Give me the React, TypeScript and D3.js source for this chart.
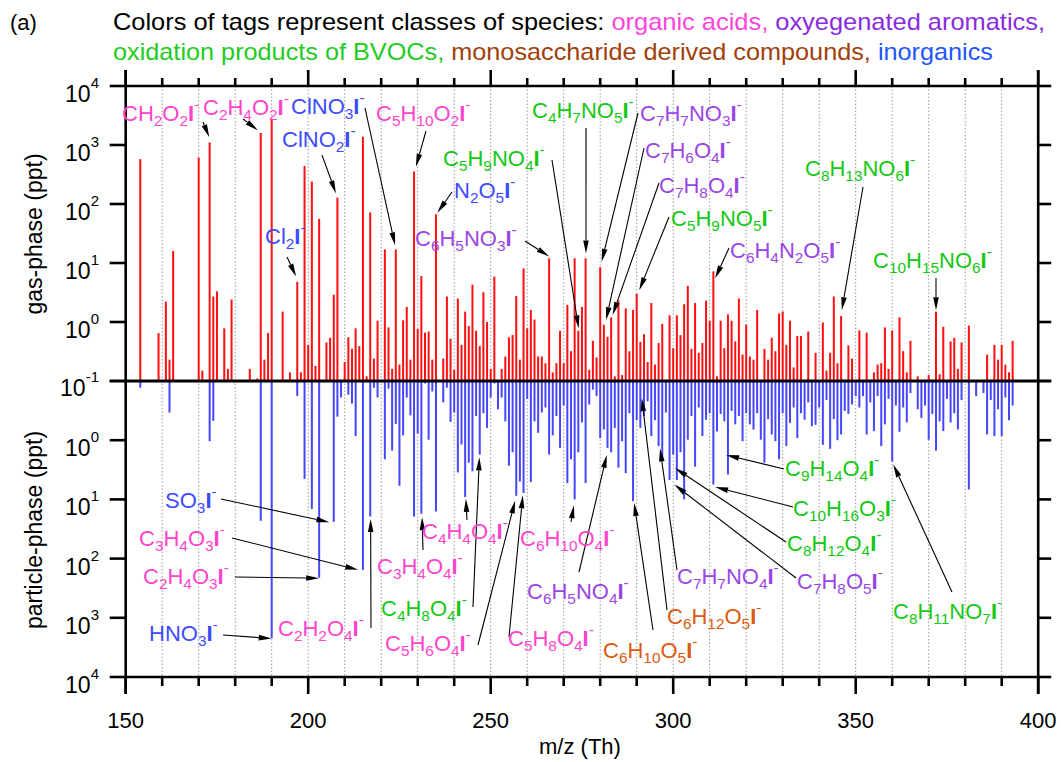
import React from "react";
import * as d3 from "d3";

// ---------- data ----------
const gasPeaks: [number, number][] = [
  [154,575],[159,0.65],[161,2.2],[162,0.23],[163,16],[170,610],[171,0.15],[173,1100],[174,2.7],[175,3.3],[177,0.78],[178,0.16],[179,2.4],[184,0.16],[186,0.11],[187,1600],[188,0.23],[189,0.65],[190,2700],[193,1.5],[195,0.14],[197,4.8],[198,0.14],[199,440],[200,0.41],[201,240],[202,0.18],[203,56],[205,0.45],[206,0.54],[207,2.9],[208,128],[210,0.21],[211,0.55],[212,0.35],[213,0.78],[214,0.39],[215,1380],[216,0.12],[217,72],[218,0.24],[219,1.05],[221,17],[222,0.81],[223,0.16],[224,17],[225,0.19],[226,1.07],[227,1.8],[228,0.23],[229,355],[230,0.76],[231,6.0],[232,0.66],[233,0.69],[234,0.23],[235,67],[237,0.24],[238,2.7],[239,0.52],[240,0.155],[241,2.5],[242,0.41],[243,1.5],[244,0.85],[245,4.3],[246,0.71],[247,0.39],[248,3.2],[249,1.0],[250,0.16],[251,5.9],[253,0.16],[254,0.26],[255,0.55],[256,0.6],[257,2.75],[258,0.23],[259,8.1],[260,0.78],[261,1.6],[262,1.1],[263,0.26],[264,0.26],[265,0.2],[266,12],[267,0.14],[268,0.2],[269,0.71],[270,0.2],[271,1.95],[272,0.32],[273,12],[274,0.71],[275,1.8],[276,12],[277,0.155],[278,0.48],[279,0.25],[280,8.5],[281,0.9],[282,0.56],[283,1.2],[284,0.12],[285,2.3],[286,0.126],[287,1.7],[288,0.32],[289,1.6],[290,3.0],[291,0.46],[292,0.62],[293,0.21],[294,2.1],[295,0.19],[296,0.44],[297,0.93],[299,1.3],[300,0.36],[301,1.3],[302,0.6],[303,2.0],[304,4.1],[305,0.35],[306,2.1],[307,0.3],[308,0.44],[309,2.3],[310,1.05],[311,7.2],[312,0.12],[313,1.05],[314,0.36],[315,1.35],[316,1.05],[317,0.47],[318,2.5],[319,0.28],[320,0.9],[321,0.26],[322,0.23],[323,1.6],[325,0.35],[326,0.23],[327,0.54],[328,0.32],[329,1.4],[330,1.5],[331,0.41],[332,1.05],[333,0.17],[334,0.58],[335,0.58],[337,0.69],[339,0.3],[341,0.98],[342,0.15],[343,0.3],[344,2.7],[345,0.2],[346,1.26],[348,0.4],[349,0.24],[351,0.72],[353,0.66],[355,0.14],[356,0.19],[357,0.2],[358,0.81],[359,0.16],[360,0.72],[362,1.2],[363,0.32],[364,0.14],[365,0.48],[367,0.12],[370,0.126],[372,1.5],[373,0.13],[374,0.83],[376,0.47],[377,0.54],[378,0.16],[379,0.45],[381,0.87],[386,0.28],[388,0.41],[389,0.23],[390,0.41],[391,0.19],[392,0.14],[393,0.48]
];

const particlePeaks: [number, number][] = [
  [154,0.13],[162,0.34],[173,1.04],[174,0.47],[187,23],[190,2200],[197,0.18],[199,4.5],[201,14.5],[203,210],[207,24],[208,0.4],[209,0.19],[211,0.17],[212,0.24],[213,0.85],[215,155],[217,19.5],[218,0.13],[219,0.19],[221,2.1],[222,0.135],[223,1.5],[224,0.53],[225,5.9],[226,0.83],[227,0.19],[228,0.38],[229,19.5],[230,0.78],[231,17.5],[232,0.11],[233,0.98],[234,0.15],[235,16],[237,0.23],[238,0.13],[239,0.49],[240,0.34],[241,3.5],[242,1.18],[243,9.1],[244,2.4],[245,3.35],[246,0.39],[247,1.75],[248,0.35],[249,0.62],[250,0.19],[251,0.11],[252,0.3],[253,0.19],[254,0.48],[255,2.7],[256,1.6],[257,8.7],[258,5.0],[259,7.8],[260,0.2],[261,5.1],[262,0.48],[263,0.75],[264,0.34],[265,0.28],[266,1.75],[267,0.83],[268,0.39],[269,1.35],[270,0.26],[271,5.3],[272,2.1],[273,10],[274,1.6],[275,0.5],[276,5.3],[277,0.25],[278,0.14],[279,0.18],[280,0.92],[281,0.66],[282,1.35],[283,1.6],[284,0.62],[285,2.9],[286,1.04],[287,3.6],[288,0.35],[289,10.7],[290,0.46],[291,0.62],[292,0.39],[293,0.22],[294,0.85],[295,0.46],[296,1.26],[297,2.1],[298,0.34],[299,4.7],[300,1.75],[301,4.7],[302,1.6],[303,10],[304,0.98],[305,0.39],[306,2.8],[307,0.28],[308,0.85],[309,0.45],[310,0.35],[311,5.6],[312,0.71],[313,0.36],[314,0.48],[315,3.8],[316,0.32],[317,0.54],[318,0.39],[319,1.04],[320,0.35],[321,0.54],[322,0.66],[323,0.35],[324,0.98],[325,2.4],[326,0.44],[327,0.8],[328,1.04],[329,2.1],[330,0.35],[331,1.26],[332,0.51],[333,0.28],[334,0.92],[335,0.35],[336,0.45],[337,0.23],[338,0.58],[339,0.55],[340,0.28],[341,1.2],[342,0.21],[343,1.4],[344,0.44],[345,1.0],[346,0.8],[347,0.32],[348,0.36],[349,0.25],[350,0.18],[351,0.28],[352,0.18],[353,0.8],[354,0.23],[355,0.7],[356,0.18],[357,1.26],[358,0.54],[359,0.2],[360,2.3],[361,0.26],[362,0.72],[363,0.28],[364,0.5],[365,0.16],[367,0.3],[368,0.42],[369,0.26],[370,0.98],[371,0.36],[372,1.5],[373,0.48],[374,0.7],[375,0.2],[376,0.5],[377,0.35],[378,0.66],[379,0.21],[381,6.8],[383,0.18],[385,0.16],[386,0.8],[387,0.21],[388,0.85],[389,0.3],[390,0.85],[391,0.19],[392,0.46],[393,0.26]
];

const xTicks = [150, 200, 250, 300, 350, 400];
const xMinorTicks = d3.range(150, 401, 10);
const decadeExponents = [-1, 0, 1, 2, 3, 4];

const classColors: Record<string, string> = {
  acid: "#ff44cc",
  arom: "#9b45e6",
  bvoc: "#14c814",
  mono: "#dd5a10",
  inorg: "#3c4bff",
};

const headerLine1: [string, string][] = [
  ["Colors of tags represent classes of species: ", "#000000"],
  ["organic acids, ", "#ff44dd"],
  ["oxyegenated aromatics,", "#8a2be2"],
];
const headerLine2: [string, string][] = [
  ["oxidation products of BVOCs, ", "#22cc22"],
  ["monosaccharide derived compounds, ", "#a0400a"],
  ["inorganics", "#2255ff"],
];

// annotations: label (left x, baseline y in px), arrow tail (px), arrow tip (m/z, log10 value)
type Ann = { f: string; c: string; p: "g" | "p"; lx: number; ly: number; tail: [number, number]; tip: [number, number] };
const annotations: Ann[] = [
  { f: "CH2O2I-", c: "acid", p: "g", lx: 122, ly: 121, tail: [203, 122], tip: [172.9, 3.13] },
  { f: "C2H4O2I-", c: "acid", p: "g", lx: 203, ly: 115, tail: [243, 119], tip: [186.2, 3.25] },
  { f: "ClNO3I-", c: "inorg", p: "g", lx: 291, ly: 114, tail: [365, 108], tip: [223.8, 1.3] },
  { f: "ClNO2I-", c: "inorg", p: "g", lx: 282, ly: 147, tail: [322, 155], tip: [207.6, 2.18] },
  { f: "C5H10O2I-", c: "acid", p: "g", lx: 376, ly: 121, tail: [426, 131], tip: [229.5, 2.63] },
  { f: "N2O5I-", c: "inorg", p: "g", lx: 454, ly: 198, tail: [452, 192], tip: [235.4, 1.85] },
  { f: "C6H5NO3I-", c: "arom", p: "g", lx: 415, ly: 246, tail: [525, 241], tip: [266.05, 1.11] },
  { f: "C5H9NO4I-", c: "bvoc", p: "g", lx: 443, ly: 166, tail: [552, 160], tip: [274.1, -0.107] },
  { f: "C4H7NO5I-", c: "bvoc", p: "g", lx: 532, ly: 118, tail: [586, 128], tip: [276.1, 1.16] },
  { f: "C7H7NO3I-", c: "arom", p: "g", lx: 640, ly: 121, tail: [638, 113], tip: [280.4, 1.02] },
  { f: "C7H6O4I-", c: "arom", p: "g", lx: 645, ly: 158, tail: [644, 148], tip: [281.6, 0.034] },
  { f: "C7H8O4I-", c: "arom", p: "g", lx: 659, ly: 193, tail: [659, 183], tip: [283.4, 0.12] },
  { f: "C5H9NO5I-", c: "bvoc", p: "g", lx: 671, ly: 226, tail: [669, 217], tip: [290.7, 0.54] },
  { f: "C6H4N2O5I-", c: "arom", p: "g", lx: 730, ly: 258, tail: [729, 248], tip: [311.5, 0.74] },
  { f: "C8H13NO6I-", c: "bvoc", p: "g", lx: 805, ly: 176, tail: [863, 187], tip: [346.2, 0.2] },
  { f: "C10H15NO6I-", c: "bvoc", p: "g", lx: 873, ly: 268, tail: [936, 278], tip: [372.0, 0.2] },
  { f: "Cl2I-", c: "inorg", p: "g", lx: 265, ly: 244, tail: [287, 257], tip: [196.7, 0.77] },
  { f: "SO3I-", c: "inorg", p: "p", lx: 165, ly: 508, tail: [221, 499], tip: [205.8, 1.385] },
  { f: "C3H4O3I-", c: "acid", p: "p", lx: 139, ly: 546, tail: [232, 538], tip: [213.7, 2.19] },
  { f: "C2H4O3I-", c: "acid", p: "p", lx: 143, ly: 584, tail: [235, 577], tip: [203.0, 2.33] },
  { f: "HNO3I-", c: "inorg", p: "p", lx: 149, ly: 641, tail: [223, 635], tip: [190, 3.35] },
  { f: "C2H2O4I-", c: "acid", p: "p", lx: 278, ly: 636, tail: [371, 628], tip: [217.1, 1.33] },
  { f: "C3H4O4I-", c: "acid", p: "p", lx: 377, ly: 574, tail: [423, 550], tip: [231.2, 1.3] },
  { f: "C4H4O4I-", c: "acid", p: "p", lx: 422, ly: 539, tail: [467, 520], tip: [243.2, 0.99] },
  { f: "C4H8O4I-", c: "bvoc", p: "p", lx: 381, ly: 616, tail: [473, 607], tip: [246.9, 0.29] },
  { f: "C5H6O4I-", c: "acid", p: "p", lx: 385, ly: 651, tail: [478, 645], tip: [256.7, 1.02] },
  { f: "C5H8O4I-", c: "acid", p: "p", lx: 508, ly: 646, tail: [509, 637], tip: [258.8, 0.93] },
  { f: "C6H10O4I-", c: "acid", p: "p", lx: 520, ly: 546, tail: [571, 522], tip: [272.8, 1.1] },
  { f: "C6H5NO4I-", c: "arom", p: "p", lx: 527, ly: 599, tail: [579, 572], tip: [281.8, 0.25] },
  { f: "C6H10O5I-", c: "mono", p: "p", lx: 603, ly: 658, tail: [653, 630], tip: [289.3, 1.06] },
  { f: "C6H12O5I-", c: "mono", p: "p", lx: 667, ly: 624, tail: [667, 610], tip: [291.4, -0.71] },
  { f: "C7H7NO4I-", c: "arom", p: "p", lx: 677, ly: 584, tail: [677, 570], tip: [296.4, 0.14] },
  { f: "C9H14O4I-", c: "bvoc", p: "p", lx: 785, ly: 476, tail: [784, 469], tip: [314.5, 0.25] },
  { f: "C10H16O3I-", c: "bvoc", p: "p", lx: 793, ly: 516, tail: [793, 507], tip: [311.5, 0.79] },
  { f: "C8H12O4I-", c: "bvoc", p: "p", lx: 787, ly: 551, tail: [786, 542], tip: [300.5, 0.47] },
  { f: "C7H8O5I-", c: "arom", p: "p", lx: 797, ly: 589, tail: [796, 578], tip: [300.3, 0.75] },
  { f: "C8H11NO7I-", c: "bvoc", p: "p", lx: 893, ly: 619, tail: [952, 592], tip: [360.3, 0.41] },
];

// ---------- layout ----------
const W = 1061, H = 762;
const PL = 125.7, PR = 1038.2, PT = 86, PM = 381, PB = 677;
const FONT = "'Liberation Sans', Arial, Helvetica, sans-serif";

const x = d3.scaleLinear().domain([150, 400]).range([PL, PR]);
const yG = d3.scaleLog().domain([0.1, 1e4]).range([PM, PT]);
const yP = d3.scaleLog().domain([0.1, 1e4]).range([PM, PB]);

function Formula({ text, lx, ly, color, size }: { text: string; lx: number; ly: number; color: string; size: number }) {
  const tokens = text.match(/[A-Z][a-z]?|\d+|-/g) || [];
  let off = 0;
  return (
    <text x={lx} y={ly} fill={color} fontSize={size} fontFamily={FONT}>
      {tokens.map((t, i) => {
        let target = 0, fs = size, fw: any = "normal";
        if (/\d/.test(t)) { target = size * 0.24; fs = size * 0.7; }
        else if (t === "-") { target = -size * 0.52; fs = size * 0.7; }
        else if (t === "I") { fw = "bold"; }
        const dy = target - off;
        off = target;
        return (
          <tspan key={i} dy={dy} fontSize={fs} fontWeight={fw}>
            {t}
          </tspan>
        );
      })}
    </text>
  );
}

function Arrow({ a }: { a: Ann }) {
  const tx = x(a.tip[0]);
  const ty = a.p === "g" ? yG(Math.pow(10, a.tip[1])) : yP(Math.pow(10, a.tip[1]));
  const [sx, sy] = a.tail;
  const dx = tx - sx, dy = ty - sy;
  const len = Math.hypot(dx, dy);
  const ux = dx / len, uy = dy / len;
  const L = Math.min(13, len);
  const hw = 2.8;
  const bx = tx - ux * L, by = ty - uy * L;
  const nx = -uy, ny = ux;
  return (
    <g>
      <line x1={sx} y1={sy} x2={bx} y2={by} stroke="#000" strokeWidth={1.1} />
      <polygon points={`${tx},${ty} ${bx + nx * hw},${by + ny * hw} ${bx - nx * hw},${by - ny * hw}`} fill="#000" />
    </g>
  );
}

export default function App() {
  return (
    <svg width={W} height={H} style={{ position: "absolute", left: 0, top: 0, background: "#fff" }} fontFamily={FONT}>
      <rect width={W} height={H} fill="#fff" />
      {/* header */}
      <text x={10} y={30} fontSize={22}>(a)</text>
      <text x={113} y={30} fontSize={24} textLength={932} lengthAdjust="spacingAndGlyphs">
        {headerLine1.map(([t, c], i) => <tspan key={i} fill={c}>{t}</tspan>)}
      </text>
      <text x={113} y={60} fontSize={24} textLength={880} lengthAdjust="spacingAndGlyphs">
        {headerLine2.map(([t, c], i) => <tspan key={i} fill={c}>{t}</tspan>)}
      </text>

      {/* grid */}
      {xMinorTicks.map((m) => (
        <line key={"g" + m} x1={x(m)} x2={x(m)} y1={PT} y2={PB} stroke="#9a9a9a" strokeWidth={1} strokeDasharray="1.5,2" />
      ))}

      {/* bars */}
      {gasPeaks.map(([m, v]) => (
        <rect key={"r" + m} x={x(m) - 1} width={2} y={yG(v)} height={PM - yG(v)} fill="#ff1010" />
      ))}
      {particlePeaks.map(([m, v]) => (
        <rect key={"b" + m} x={x(m) - 1} width={2} y={PM} height={yP(v) - PM} fill="#4646ff" />
      ))}

      {/* axes frame */}
      <g stroke="#000" strokeWidth={2.6} fill="none">
        <line x1={PL} x2={PL} y1={PT - 16} y2={PB + 17} />
        <line x1={PR} x2={PR} y1={PT - 16} y2={PB + 17} />
        <line x1={PL} x2={PR} y1={PT} y2={PT} />
        <line x1={PL} x2={PR} y1={PB} y2={PB} />
        <line x1={PL} x2={PR} y1={PM} y2={PM} strokeWidth={3} />
        {xMinorTicks.map((m) => {
          const major = xTicks.includes(m);
          return (
            <g key={"t" + m}>
              <line x1={x(m)} x2={x(m)} y1={PT} y2={PT - (major ? 16 : 8)} />
              <line x1={x(m)} x2={x(m)} y1={PB} y2={PB + (major ? 17 : 9)} />
            </g>
          );
        })}
        {decadeExponents.map((e) => (
          <g key={"d" + e}>
            <line x1={PL - 16} x2={PL} y1={yG(Math.pow(10, e))} y2={yG(Math.pow(10, e))} />
            <line x1={PR} x2={PR + 13} y1={yG(Math.pow(10, e))} y2={yG(Math.pow(10, e))} />
            <line x1={PL - 16} x2={PL} y1={yP(Math.pow(10, e))} y2={yP(Math.pow(10, e))} />
            <line x1={PR} x2={PR + 13} y1={yP(Math.pow(10, e))} y2={yP(Math.pow(10, e))} />
          </g>
        ))}
      </g>

      {/* y tick labels */}
      {decadeExponents.map((e) => (
        <text key={"lg" + e} x={99} y={yG(Math.pow(10, e)) + (e === -1 ? 15 : 16)} fontSize={23} textAnchor="end">
          10<tspan fontSize={15} dy={-14}>{e}</tspan>
        </text>
      ))}
      {decadeExponents.filter((e) => e > -1).map((e) => (
        <text key={"lp" + e} x={99} y={yP(Math.pow(10, e)) + 16} fontSize={23} textAnchor="end">
          10<tspan fontSize={15} dy={-14}>{e}</tspan>
        </text>
      ))}

      {/* x tick labels */}
      {xTicks.map((m) => (
        <text key={"xl" + m} x={x(m)} y={728} fontSize={22} textAnchor="middle">{m}</text>
      ))}
      <text x={580} y={754} fontSize={22} textAnchor="middle">m/z (Th)</text>
      <text transform={`translate(42,234) rotate(-90)`} fontSize={23} textAnchor="middle">gas-phase (ppt)</text>
      <text transform={`translate(42,530) rotate(-90)`} fontSize={23} textAnchor="middle">particle-phase (ppt)</text>

      {/* annotations */}
      {annotations.map((a, i) => <Arrow key={"a" + i} a={a} />)}
      {annotations.map((a, i) => (
        <Formula key={"f" + i} text={a.f} lx={a.lx} ly={a.ly} color={classColors[a.c]} size={22} />
      ))}
    </svg>
  );
}
